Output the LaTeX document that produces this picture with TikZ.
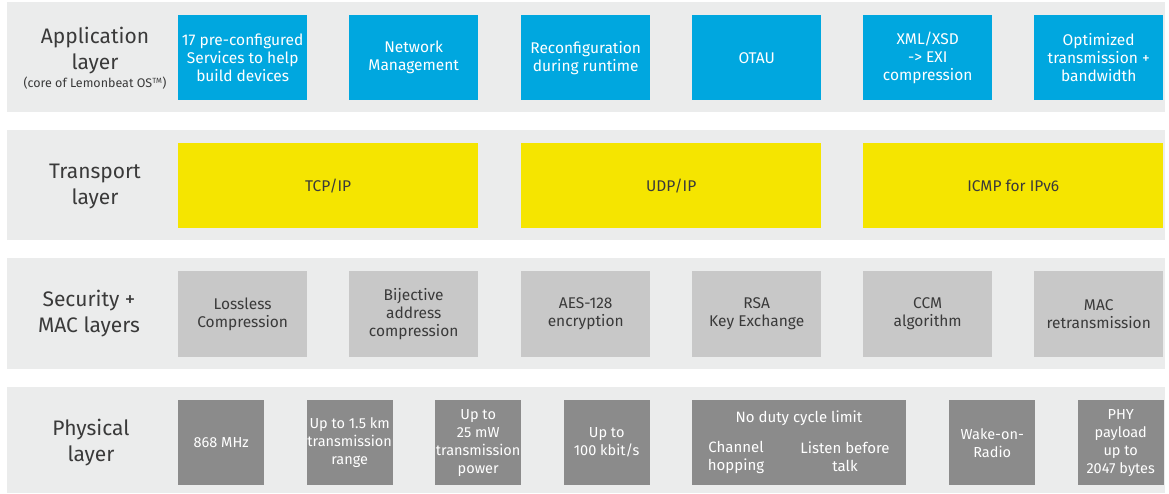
\documentclass[tikz,border=0pt]{standalone}
\usepackage{fontspec}
\setmainfont{Fira Sans}
\definecolor{bandbg}{HTML}{EBECEC}
\definecolor{appblue}{HTML}{00A7DF}
\definecolor{trayellow}{HTML}{F5E500}
\definecolor{secgrey}{HTML}{C8C8C8}
\definecolor{phygrey}{HTML}{8B8B8B}
\definecolor{labeltext}{HTML}{3A3A3A}
\begin{document}
\begin{tikzpicture}[x=1pt,y=-1pt,
  band/.style={fill=bandbg,draw=none,anchor=north west,inner sep=0pt,minimum width=1158pt,minimum height=#1},
  layerlabel/.style={text=labeltext,font=\fontsize{21}{26}\selectfont,align=center,inner sep=0pt},
  appbox/.style={fill=appblue,text=white,anchor=north west,inner sep=0pt,minimum width=129pt,minimum height=85pt,align=center,font=\fontsize{15.5}{18}\selectfont},
  trbox/.style={fill=trayellow,text=labeltext,anchor=north west,inner sep=0pt,minimum width=300pt,minimum height=85pt,align=center,font=\fontsize{15.5}{18}\selectfont},
  secbox/.style={fill=secgrey,text=labeltext,anchor=north west,inner sep=0pt,minimum width=129pt,minimum height=86pt,align=center,font=\fontsize{15.5}{18}\selectfont},
  phybox/.style={fill=phygrey,text=white,anchor=north west,inner sep=0pt,minimum width=86pt,minimum height=85pt,align=center,font=\fontsize{14.5}{18}\selectfont},
  phytext/.style={text=white,inner sep=0pt,align=center,font=\fontsize{15}{18}\selectfont}
]
\useasboundingbox (0,0) rectangle (1169,494);
% bands
\node[band=110pt] (b1) at (7,2) {};
\node[band=110pt] (b2) at (7,130) {};
\node[band=111pt] (b3) at (7,258) {};
\node[band=106pt] (b4) at (7,387) {};
% labels
\node[layerlabel] (l1) at (95,51) {Application\\layer};
\node[text=labeltext,font=\fontsize{12.5}{14}\selectfont,inner sep=0pt] (l1s) at (95,83) {(core of Lemonbeat OS\textsuperscript{\fontsize{7.5}{8}\selectfont TM})};
\node[layerlabel] (l2) at (95,187) {Transport\\layer};
\node[layerlabel] (l3) at (89,313.5) {Security +\\MAC layers};
\node[layerlabel] (l4) at (91,443) {Physical\\layer};
% application
\node[appbox] (a1) at (178,15) {17 pre-configured\\Services to help\\build devices};
\node[appbox] (a2) at (349,15) {Network\\Management};
\node[appbox] (a3) at (521,15) {Reconfiguration\\during runtime};
\node[appbox] (a4) at (692,15) {OTAU};
\node[appbox] (a5) at (863,15) {XML/XSD\\-> EXI\\compression};
\node[appbox] (a6) at (1034,15) {Optimized\\transmission +\\bandwidth};
% transport
\node[trbox] (t1) at (178,143) {TCP/IP};
\node[trbox] (t2) at (521,143) {UDP/IP};
\node[trbox] (t3) at (863,143) {ICMP for IPv6};
% security
\node[secbox] (s1) at (178,271) {Lossless\\Compression};
\node[secbox] (s2) at (349,271) {Bijective\\address\\compression};
\node[secbox] (s3) at (521,271) {AES-128\\encryption};
\node[secbox] (s4) at (692,271) {RSA\\Key Exchange};
\node[secbox] (s5) at (863,271) {CCM\\algorithm};
\node[secbox] (s6) at (1034,271) {MAC\\retransmission};
% physical
\node[phybox] (p1) at (178,400) {868 MHz};
\node[phybox] (p2) at (306.5,400) {Up to 1.5 km\\transmission\\range};
\node[phybox] (p3) at (435,400) {Up to\\25 mW\\transmission\\power};
\node[phybox] (p4) at (563.5,400) {Up to\\100 kbit/s};
\node[phybox,minimum width=214pt] (p5) at (692,400) {};
\node[phytext] (p5a) at (799,418) {No duty cycle limit};
\node[phytext] (p5b) at (736,457) {Channel\\hopping};
\node[phytext] (p5c) at (845,457) {Listen before\\talk};
\node[phybox] (p6) at (949,400) {Wake-on-\\Radio};
\node[phybox] (p7) at (1077.5,400) {PHY\\payload\\up to\\2047 bytes};
\end{tikzpicture}
\end{document}
